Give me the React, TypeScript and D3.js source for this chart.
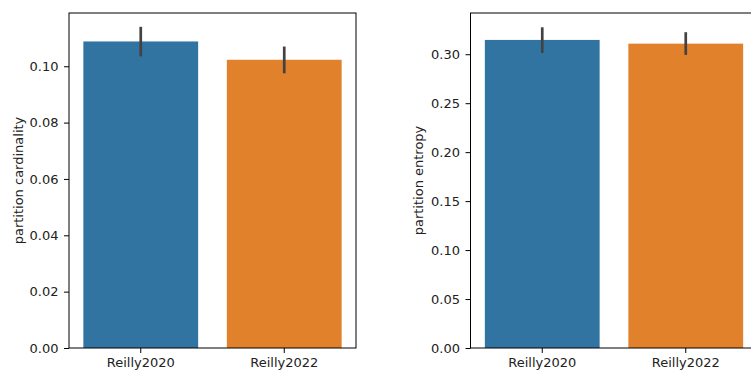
import React, { useEffect, useRef } from "react";
import * as d3 from "d3";

const categories = ["Reilly2020", "Reilly2022"];
const colors = ["#3274a1", "#e1812c"];

const cardinalityMean = [0.1088, 0.1023];
const cardinalityLow = [0.1035, 0.0975];
const cardinalityHigh = [0.114, 0.107];
const cardinalityTicks = [0, 0.02, 0.04, 0.06, 0.08, 0.1];

const entropyMean = [0.3146, 0.3108];
const entropyLow = [0.3013, 0.2993];
const entropyHigh = [0.3275, 0.3225];
const entropyTicks = [0, 0.05, 0.1, 0.15, 0.2, 0.25, 0.3];

const W = 751;
const H = 370;
const FONT = "DejaVu Sans, sans-serif";
const FS = 13;

type Panel = {
  left: number;
  top: number;
  width: number;
  height: number;
  yMax: number;
  mean: number[];
  low: number[];
  high: number[];
  ticks: number[];
  label: string;
  labelX: number;
};

const panels: Panel[] = [
  {
    left: 69, top: 13, width: 287, height: 335, yMax: 0.1189,
    mean: cardinalityMean, low: cardinalityLow, high: cardinalityHigh,
    ticks: cardinalityTicks, label: "partition cardinality", labelX: 18,
  },
  {
    left: 470.5, top: 13, width: 287, height: 335, yMax: 0.3421,
    mean: entropyMean, low: entropyLow, high: entropyHigh,
    ticks: entropyTicks, label: "partition entropy", labelX: 418,
  },
];

const App = () => {
  const ref = useRef<SVGSVGElement>(null);

  useEffect(() => {
    const svg = d3.select(ref.current);
    svg.selectAll("*").remove();
    svg.append("rect").attr("width", W).attr("height", H).attr("fill", "#fff");

    panels.forEach((p) => {
      const x = d3.scaleBand()
        .domain(categories)
        .range([p.left, p.left + p.width])
        .paddingInner(0.2)
        .paddingOuter(0.1);
      const y = d3.scaleLinear()
        .domain([0, p.yMax])
        .range([p.top + p.height, p.top]);

      const g = svg.append("g");

      g.selectAll(".bar")
        .data(categories)
        .enter()
        .append("rect")
        .attr("x", (d) => x(d)!)
        .attr("y", (d, i) => y(p.mean[i]))
        .attr("width", x.bandwidth())
        .attr("height", (d, i) => y(0) - y(p.mean[i]))
        .attr("fill", (d, i) => colors[i]);

      g.selectAll(".err")
        .data(categories)
        .enter()
        .append("line")
        .attr("x1", (d) => x(d)! + x.bandwidth() / 2)
        .attr("x2", (d) => x(d)! + x.bandwidth() / 2)
        .attr("y1", (d, i) => y(p.low[i]))
        .attr("y2", (d, i) => y(p.high[i]))
        .attr("stroke", "#424242")
        .attr("stroke-width", 2.7);

      // y axis
      const yAxis = g.append("g")
        .attr("transform", `translate(${p.left},0)`)
        .call(d3.axisLeft(y).tickValues(p.ticks).tickFormat(d3.format(".2f")).tickSizeOuter(0).tickSize(5).tickPadding(5.5));
      yAxis.select(".domain").remove();

      // x axis
      const xAxis = g.append("g")
        .attr("transform", `translate(0,${p.top + p.height})`)
        .call(d3.axisBottom(x).tickSizeOuter(0).tickSize(5).tickPadding(5));
      xAxis.select(".domain").remove();

      [yAxis, xAxis].forEach((a) => {
        a.selectAll("text").attr("font-family", FONT).attr("font-size", FS).attr("fill", "#222");
        a.selectAll("line").attr("stroke", "#000").attr("stroke-width", 1);
      });

      // frame
      g.append("rect")
        .attr("x", p.left)
        .attr("y", p.top)
        .attr("width", p.width)
        .attr("height", p.height)
        .attr("fill", "none")
        .attr("stroke", "#000")
        .attr("stroke-width", 1);

      g.append("text")
        .attr("transform", `translate(${p.labelX},${p.top + p.height / 2}) rotate(-90)`)
        .attr("text-anchor", "middle")
        .attr("dominant-baseline", "central")
        .attr("font-family", FONT)
        .attr("font-size", FS)
        .attr("fill", "#222")
        .text(p.label);
    });
  }, []);

  return (
    <svg
      ref={ref}
      width={W}
      height={H}
      style={{ position: "absolute", left: 0, top: 0, display: "block" }}
    />
  );
};

export default App;
